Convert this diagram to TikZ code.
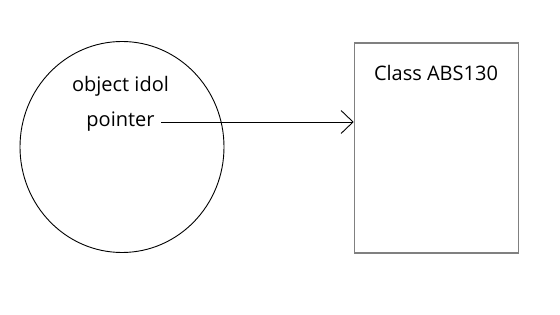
\documentclass[tikz,border=0pt]{standalone}
\usepackage{fontspec}
\setmainfont{Open Sans}
\usetikzlibrary{arrows.meta,shapes.geometric}
\begin{document}
\begin{tikzpicture}[x=1pt,y=-1pt,
  lbl/.style={inner sep=0pt,font=\fontsize{20}{24}\selectfont},
  openarrow/.style={-{Straight Barb[length=12pt,width=23pt,line width=0.9pt]},line width=0.9pt}]
\useasboundingbox (0,0) rectangle (560,315);
\node[draw,line width=0.9pt,ellipse,minimum width=204pt,minimum height=211pt,inner sep=0pt] (obj) at (122,147) {};
\node[draw=gray,line width=1.6pt,minimum width=164pt,minimum height=210pt,inner sep=0pt] (cls) at (436.5,148) {};
\node[lbl] (t1) at (120.5,86) {object idol};
\node[lbl] (t2) at (120.5,122) {pointer};
\node[lbl] (t3) at (436,73) {Class ABS130};
\coordinate (s) at (161,122);
\draw[openarrow] (s) -- (s -| cls.west);
\end{tikzpicture}
\end{document}
